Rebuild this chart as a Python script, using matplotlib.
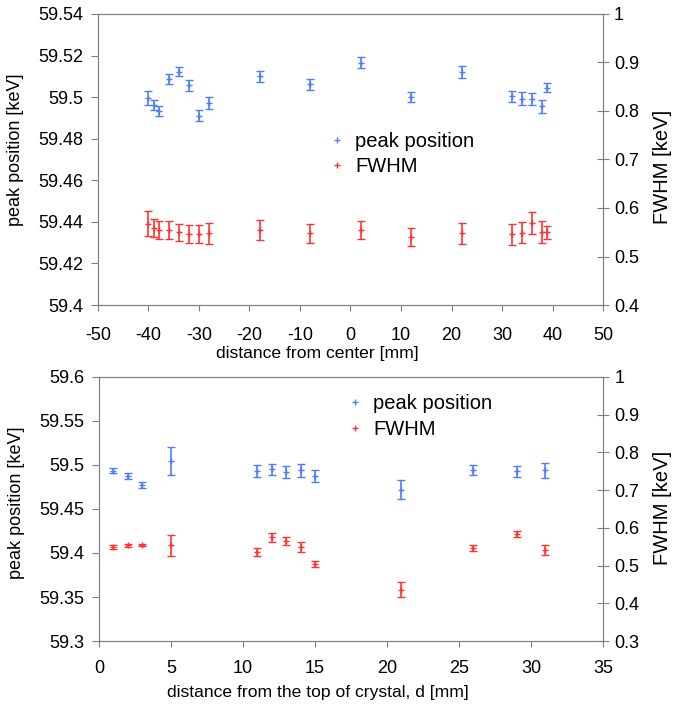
import matplotlib.pyplot as plt
from matplotlib.lines import Line2D
from matplotlib.ticker import FuncFormatter

plt.rcParams["font.family"] = ["Liberation Sans", "DejaVu Sans"]
plt.rcParams["font.size"] = 13
plt.rcParams["axes.unicode_minus"] = False

BLUE = "#4f7cff"
RED = "#ff3333"
GREY = "#808080"

# top panel: scan across the crystal face
x_center = [-40, -39, -38, -36, -34, -32, -30, -28, -18, -8, 2, 12, 22, 32, 34, 36, 38, 39]
peak_center = [59.4995, 59.4961, 59.4934, 59.5086, 59.5123, 59.5056, 59.4911, 59.4972, 59.5100,
               59.5062, 59.5166, 59.5001, 59.5120, 59.5003, 59.4993, 59.4991, 59.4955, 59.5046]
peak_center_err = [0.0035, 0.0025, 0.0024, 0.0025, 0.0020, 0.0025, 0.0025, 0.0030, 0.0028,
                   0.0027, 0.0027, 0.0026, 0.0029, 0.0028, 0.0030, 0.0030, 0.0032, 0.0020]
fwhm_center = [0.568, 0.5585, 0.555, 0.555, 0.550, 0.546, 0.546, 0.5476, 0.555,
               0.5476, 0.555, 0.540, 0.5476, 0.546, 0.549, 0.569, 0.550, 0.550]
fwhm_center_err = [0.026, 0.018, 0.0185, 0.0185, 0.018, 0.018, 0.018, 0.021, 0.020,
                   0.020, 0.019, 0.0185, 0.021, 0.022, 0.022, 0.0225, 0.023, 0.0135]

# bottom panel: scan along the depth
x_depth = [1, 2, 3, 5, 11, 12, 13, 14, 15, 21, 26, 29, 31]
peak_depth = [59.4937, 59.4880, 59.4774, 59.5047, 59.4933, 59.4952, 59.4918, 59.4940,
              59.4872, 59.4720, 59.4948, 59.4929, 59.4940]
peak_depth_err = [0.0030, 0.0034, 0.0038, 0.0160, 0.0072, 0.0063, 0.0070, 0.0072,
                  0.0068, 0.0108, 0.0057, 0.0060, 0.0085]
fwhm_depth = [0.548, 0.554, 0.554, 0.554, 0.5347, 0.5755, 0.5648, 0.5489,
              0.5037, 0.4364, 0.5471, 0.5834, 0.5409]
fwhm_depth_err = [0.0053, 0.0035, 0.0027, 0.0275, 0.0106, 0.012, 0.0102, 0.0137,
                  0.0084, 0.0195, 0.0075, 0.0089, 0.0124]


def style(ax, ax2, xpad):
    for a in (ax, ax2):
        for s in a.spines.values():
            s.set_color(GREY)
    ax.tick_params(axis="y", direction="out", length=5, color=GREY, labelsize=13, pad=5.5)
    ax.tick_params(axis="x", direction="out", length=4.5, color=GREY, labelsize=13, pad=xpad)
    ax2.tick_params(axis="y", direction="inout", length=9, color=GREY, labelsize=13)
    fmt = FuncFormatter(lambda v, p: f"{v:g}")
    ax.yaxis.set_major_formatter(fmt)
    ax2.yaxis.set_major_formatter(fmt)


def panel(rect, x, peak, peak_err, fw, fw_err, xlim, xticks, ylim, yticks, y2lim, y2ticks,
          xlabel, leg_anchor, xpad, xlab_y, lab_y, lab2_y):
    ax = fig.add_axes(rect)
    ax2 = ax.twinx()
    ax.errorbar(x, peak, yerr=peak_err, fmt="+", color=BLUE, ms=4, mew=1,
                elinewidth=1.2, capsize=3, capthick=1.2)
    ax2.errorbar(x, fw, yerr=fw_err, fmt="+", color=RED, ms=4, mew=1,
                 elinewidth=1.2, capsize=3, capthick=1.2)
    ax.set_xlim(*xlim)
    ax.set_xticks(xticks)
    ax.set_ylim(*ylim)
    ax.set_yticks(yticks)
    ax2.set_ylim(*y2lim)
    ax2.set_yticks(y2ticks)
    style(ax, ax2, xpad)
    ax.set_xlabel(xlabel, fontsize=12.6)
    ax.xaxis.set_label_coords(0.435, xlab_y)
    ax.set_ylabel("peak position [keV]", fontsize=13)
    ax.yaxis.set_label_coords(-0.146, lab_y)
    ax2.set_ylabel("FWHM [keV]", fontsize=14.5)
    ax2.yaxis.set_label_coords(1.099, lab2_y)
    handles = [Line2D([], [], ls="none", marker="+", color=BLUE, ms=4),
               Line2D([], [], ls="none", marker="+", color=RED, ms=4)]
    ax2.legend(handles, ["peak position", "FWHM"], loc="upper left",
               bbox_to_anchor=leg_anchor, frameon=False, fontsize=14.5,
               handlelength=0.9, handletextpad=0.45, borderpad=0, borderaxespad=0,
               labelspacing=0.33)
    return ax, ax2


fig = plt.figure(figsize=(6.73, 7.09), dpi=100)

panel([0.1456, 0.5698, 0.7504, 0.4105], x_center, peak_center, peak_center_err,
      fwhm_center, fwhm_center_err, (-50, 50), range(-50, 51, 10),
      (59.4, 59.54), [59.4 + 0.02 * i for i in range(8)],
      (0.4, 1.0), [0.4 + 0.1 * i for i in range(7)],
      "distance from center [mm]", (0.455, 0.595), 11.5, -0.14, 0.535, 0.475)

panel([0.1471, 0.0959, 0.749, 0.3724], x_depth, peak_depth, peak_depth_err,
      fwhm_depth, fwhm_depth_err, (0, 35), range(0, 36, 5),
      (59.3, 59.6), [59.3 + 0.05 * i for i in range(7)],
      (0.3, 1.0), [0.3 + 0.1 * i for i in range(8)],
      "distance from the top of crystal, d [mm]", (0.49, 0.935), 9.5, -0.165, 0.525, 0.505)

fig.savefig("out.png", dpi=100)
